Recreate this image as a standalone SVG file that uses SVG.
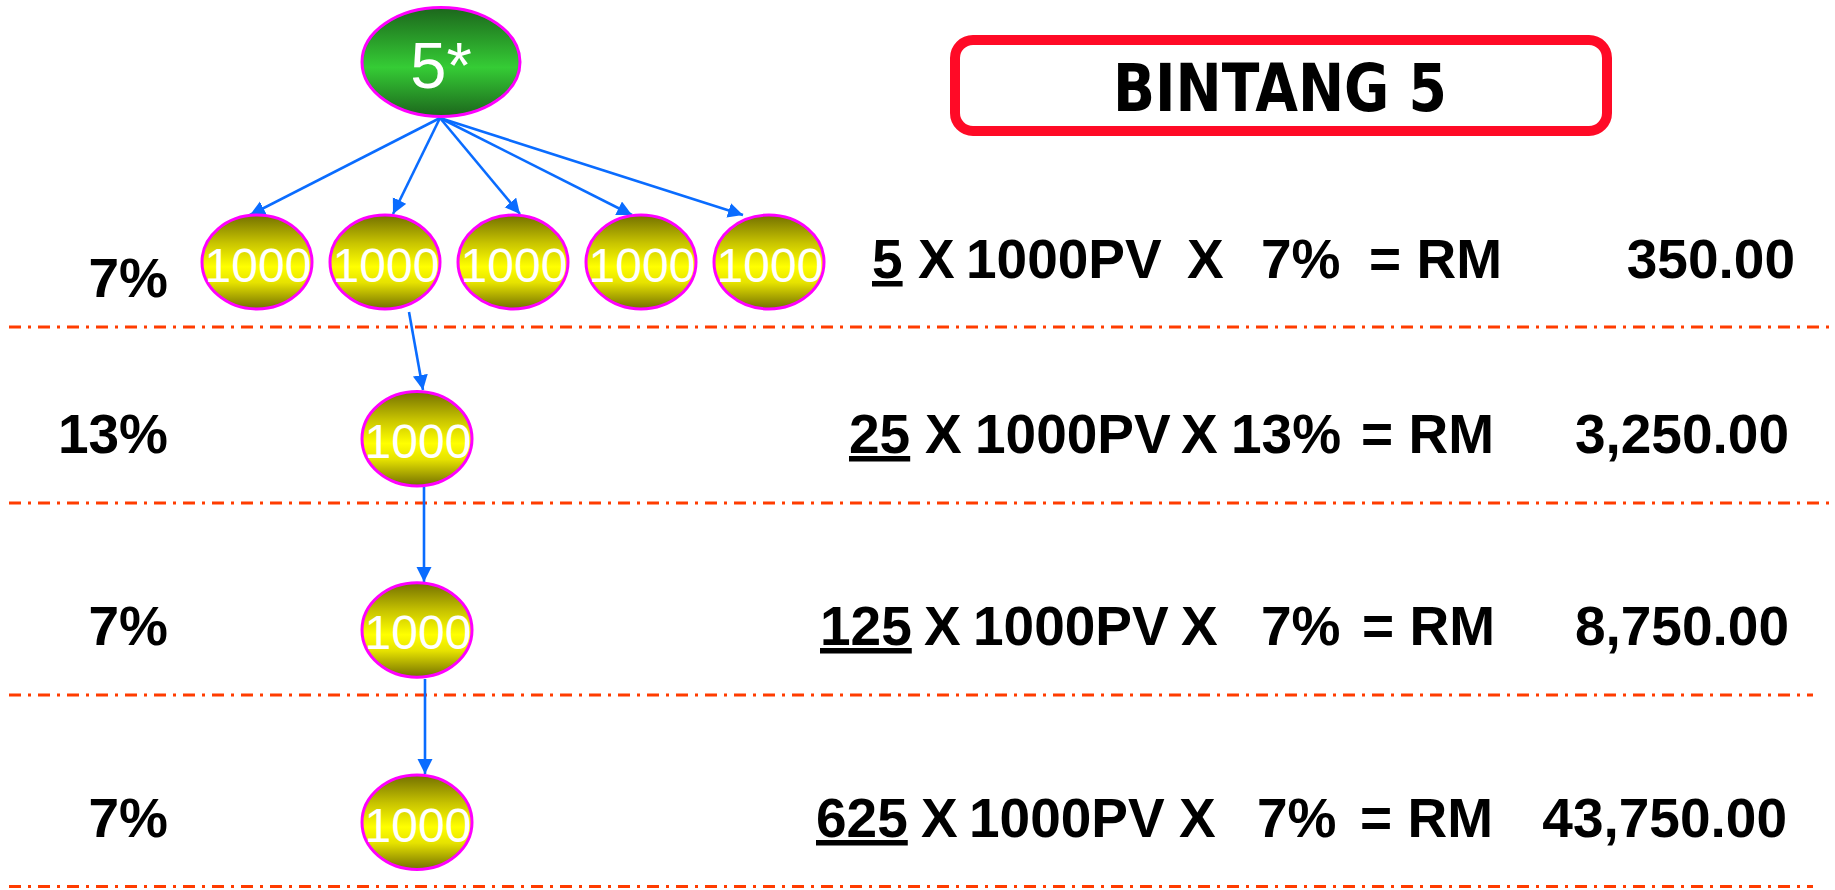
<svg xmlns="http://www.w3.org/2000/svg" width="1835" height="890" viewBox="0 0 1835 890">
<style>
.sep{stroke:#ff3c00;stroke-width:3;stroke-dasharray:12 7 3 7;fill:none}
.ball{fill:url(#gy);stroke:#ff00ff;stroke-width:3}
.bt{font-family:"Liberation Sans",Arial,sans-serif;font-size:48px;fill:#fff;text-anchor:middle}
.eq{font-family:"Liberation Sans",Arial,sans-serif;font-weight:bold;font-size:55px;fill:#000}
.r{text-anchor:end}
.u{text-decoration:underline}
.con{stroke:#0a6cff;stroke-width:2.6;fill:none;marker-end:url(#ah)}
</style>
<defs>
<linearGradient id="gy" x1="0" y1="0" x2="0" y2="1">
<stop offset="0" stop-color="#737000"/>
<stop offset="0.3" stop-color="#c8c400"/>
<stop offset="0.55" stop-color="#ffff00"/>
<stop offset="0.72" stop-color="#e6e200"/>
<stop offset="1" stop-color="#737000"/>
</linearGradient>
<linearGradient id="gg" x1="0" y1="0" x2="0" y2="1">
<stop offset="0" stop-color="#1c661c"/>
<stop offset="0.55" stop-color="#35cc35"/>
<stop offset="1" stop-color="#1c661c"/>
</linearGradient>
<marker id="ah" markerUnits="userSpaceOnUse" markerWidth="16" markerHeight="16" refX="15" refY="7.5" orient="auto">
<path d="M0,0 L15,7.5 L0,15 z" fill="#0a6cff"/>
</marker>
</defs>
<rect width="1835" height="890" fill="#fff"/>

<g id="separators">
<line class="sep" x1="9" y1="327" x2="1835" y2="327"/>
<line class="sep" x1="9" y1="503" x2="1835" y2="503"/>
<line class="sep" x1="9" y1="695" x2="1813" y2="695"/>
<line class="sep" x1="9" y1="886.5" x2="1813" y2="886.5"/>
</g>

<g id="title">
<rect x="955" y="40" width="652" height="91" rx="18" fill="#fff" stroke="#ff0a26" stroke-width="10"/>
<text x="1280" y="111" text-anchor="middle" textLength="334" lengthAdjust="spacingAndGlyphs" font-family="DejaVu Sans,sans-serif" font-weight="900" font-size="66">BINTANG 5</text>
</g>

<g id="connectors">
<line class="con" x1="440" y1="118" x2="250" y2="215"/>
<line class="con" x1="440" y1="118" x2="393" y2="214"/>
<line class="con" x1="440" y1="118" x2="520" y2="214"/>
<line class="con" x1="440" y1="118" x2="632" y2="215"/>
<line class="con" x1="440" y1="118" x2="743" y2="215"/>
<line class="con" x1="409" y1="312" x2="423" y2="390"/>
<line class="con" x1="424" y1="487" x2="424" y2="582"/>
<line class="con" x1="425" y1="679" x2="425" y2="774"/>
</g>

<g id="n0">
<ellipse cx="441" cy="62" rx="79" ry="54.5" fill="url(#gg)" stroke="#ff00ff" stroke-width="3"/>
<text x="441" y="88" text-anchor="middle" font-family="Liberation Sans,Arial,sans-serif" font-size="65" fill="#fff">5*</text>
</g>
<g id="n1"><ellipse class="ball" cx="257" cy="262" rx="55" ry="47"/><text class="bt" x="258" y="282">1000</text></g>
<g id="n2"><ellipse class="ball" cx="385" cy="262" rx="55" ry="47"/><text class="bt" x="386" y="282">1000</text></g>
<g id="n3"><ellipse class="ball" cx="513" cy="262" rx="55" ry="47"/><text class="bt" x="514" y="282">1000</text></g>
<g id="n4"><ellipse class="ball" cx="641" cy="262" rx="55" ry="47"/><text class="bt" x="642" y="282">1000</text></g>
<g id="n5"><ellipse class="ball" cx="769" cy="262" rx="55" ry="47"/><text class="bt" x="770" y="282">1000</text></g>
<g id="n6"><ellipse class="ball" cx="417" cy="438.7" rx="55" ry="47.2"/><text class="bt" x="418" y="457.5">1000</text></g>
<g id="n7"><ellipse class="ball" cx="417" cy="630" rx="55" ry="47.2"/><text class="bt" x="418" y="649">1000</text></g>
<g id="n8"><ellipse class="ball" cx="417" cy="822.3" rx="55" ry="47.2"/><text class="bt" x="418" y="841.5">1000</text></g>

<g id="rates">
<text class="eq r" x="168" y="297">7%</text>
<text class="eq r" x="168" y="453">13%</text>
<text class="eq r" x="168" y="645">7%</text>
<text class="eq r" x="168" y="837">7%</text>
</g>

<g id="row1">
<text class="eq u" x="872" y="278">5</text>
<text class="eq" x="918" y="278">X</text>
<text class="eq" x="966" y="278">1000PV</text>
<text class="eq" x="1187" y="278">X</text>
<text class="eq" x="1261" y="278">7%</text>
<text class="eq r" x="1502" y="278">= RM</text>
<text class="eq r" x="1795" y="278">350.00</text>
</g>
<g id="row2">
<text class="eq u" x="849" y="453">25</text>
<text class="eq" x="925" y="453">X</text>
<text class="eq" x="975" y="453">1000PV</text>
<text class="eq" x="1181" y="453">X</text>
<text class="eq" x="1231" y="453">13%</text>
<text class="eq r" x="1494" y="453">= RM</text>
<text class="eq r" x="1789" y="453">3,250.00</text>
</g>
<g id="row3">
<text class="eq u" x="820" y="645">125</text>
<text class="eq" x="924" y="645">X</text>
<text class="eq" x="973" y="645">1000PV</text>
<text class="eq" x="1181" y="645">X</text>
<text class="eq" x="1261" y="645">7%</text>
<text class="eq r" x="1495" y="645">= RM</text>
<text class="eq r" x="1789" y="645">8,750.00</text>
</g>
<g id="row4">
<text class="eq u" x="816" y="837">625</text>
<text class="eq" x="921" y="837">X</text>
<text class="eq" x="969" y="837">1000PV</text>
<text class="eq" x="1179" y="837">X</text>
<text class="eq" x="1257" y="837">7%</text>
<text class="eq r" x="1493" y="837">= RM</text>
<text class="eq r" x="1787" y="837">43,750.00</text>
</g>
</svg>
